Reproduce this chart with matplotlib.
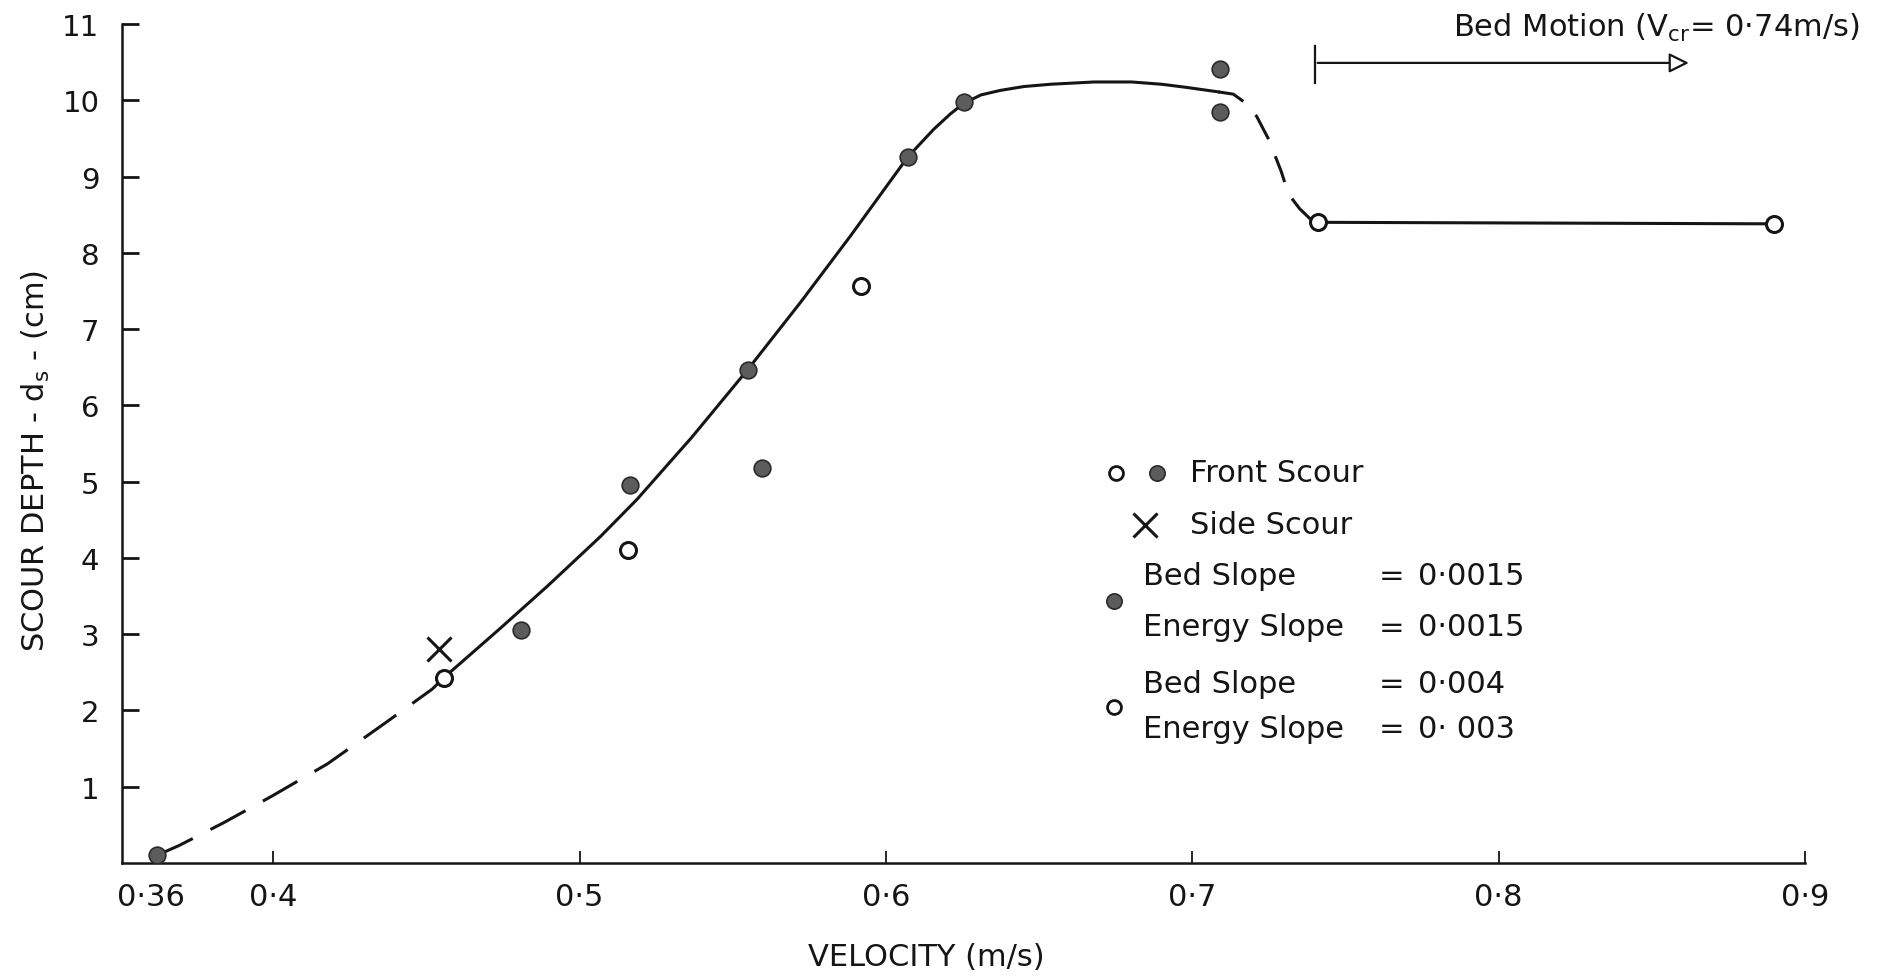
import numpy as np
import matplotlib.pyplot as plt
from matplotlib.patches import FancyArrowPatch

W, H = 1892, 978

# Front scour, bed slope 0.004 / energy slope 0.003 (open circles)
open_v = [0.4557, 0.5158, 0.5917, 0.741, 0.890]
open_ds = [2.43, 4.11, 7.56, 8.40, 8.38]

# Front scour, bed slope 0.0015 / energy slope 0.0015 (filled circles)
filled_v = [0.362, 0.481, 0.5166, 0.5549, 0.5594, 0.6072, 0.6254, 0.709, 0.709]
filled_ds = [0.10, 3.06, 4.95, 6.47, 5.18, 9.26, 9.98, 10.41, 9.84]

# Side scour
side_v = [0.4541]
side_ds = [2.80]

# hand-drawn fit, in pieces (dashed / solid / dashed / solid)
low_v = [0.362, 0.3693, 0.3839, 0.3997, 0.4177, 0.4367, 0.4519, 0.4557]
low_ds = [0.10, 0.23, 0.53, 0.88, 1.30, 1.84, 2.28, 2.43]
rise_v = [0.4557, 0.4742, 0.4895, 0.5068, 0.5188, 0.5366, 0.5549, 0.5721,
          0.5884, 0.6072, 0.6156, 0.6210, 0.6254, 0.6310, 0.6374, 0.6450,
          0.6537, 0.6680, 0.6802, 0.6900, 0.6979, 0.7085]
rise_ds = [2.43, 3.08, 3.63, 4.28, 4.77, 5.58, 6.47, 7.35,
           8.22, 9.26, 9.62, 9.82, 9.96, 10.07, 10.13, 10.18,
           10.21, 10.24, 10.24, 10.21, 10.17, 10.11]
drop_v = [0.7085, 0.7134, 0.7172, 0.7210, 0.7249, 0.7290, 0.7314, 0.7350, 0.7386, 0.741]
drop_ds = [10.11, 10.08, 9.97, 9.79, 9.49, 9.07, 8.77, 8.58, 8.44, 8.40]
flat_v = [0.741, 0.890]
flat_ds = [8.40, 8.38]

v_cr = 0.74
xticks = [0.36, 0.4, 0.5, 0.6, 0.7, 0.8, 0.9]
xtick_labels = ['0·36', '0·4', '0·5', '0·6', '0·7', '0·8', '0·9']
yticks = list(range(1, 12))

ink = '#151515'
fill = '#5c5c5c'

plt.rcParams['font.family'] = ['DejaVu Sans']

fig = plt.figure(figsize=(W / 100, H / 100), dpi=100)
ax = fig.add_axes([121.6 / W, 114 / H, (1805 - 121.6) / W, 839 / H])
ax.set_xlim(0.3505, 0.9)
ax.set_ylim(0, 11)

for s in ('top', 'right'):
    ax.spines[s].set_visible(False)
for s in ('left', 'bottom'):
    ax.spines[s].set_linewidth(1.8)
    ax.spines[s].set_color(ink)

ax.set_xticks(xticks)
ax.set_xticklabels(xtick_labels)
ax.set_yticks(yticks)
ax.tick_params(axis='x', direction='in', length=9, width=1.3, pad=14,
               labelsize=22, colors=ink)
ax.tick_params(axis='y', direction='in', length=12, width=2.0, pad=16,
               labelsize=21, colors=ink)
ax.xaxis.get_major_ticks()[0].tick1line.set_visible(False)

# fitted curve
lw = 2.2
ax.plot(low_v, low_ds, color=ink, lw=lw, dashes=(13, 6.5), zorder=2)
ax.plot(rise_v, rise_ds, color=ink, lw=lw, zorder=2)
ax.plot(drop_v, drop_ds, color=ink, lw=lw, dashes=(9, 6), zorder=2)
ax.plot(flat_v, flat_ds, color=ink, lw=lw, zorder=2)

# data points
ax.plot(open_v, open_ds, 'o', ms=11.5, mfc='white', mec=ink, mew=2.2, zorder=3)
ax.plot(filled_v, filled_ds, 'o', ms=12, mfc=fill, mec='#2a2a2a', mew=1.2, zorder=3)
ax.plot(side_v, side_ds, 'x', ms=17, mec=ink, mew=2.2, zorder=3)

# bed motion arrow
ax.plot([v_cr, v_cr], [10.23, 10.71], color=ink, lw=1.6, clip_on=False)
ax.add_patch(FancyArrowPatch((v_cr, 10.49), (0.863, 10.49), arrowstyle='-|>',
                             mutation_scale=30, lw=1.6, ec=ink, fc='white',
                             clip_on=False))
fig.text(1860 / W, 1 - 28 / H, 'Bed Motion (V$_{\\mathregular{cr}}$= 0·74m/s)',
         ha='right', va='center', fontsize=22, color=ink)

# key
def fx(px):
    return px / W

def fy(py):
    return 1 - py / H

def key_marker(px, py, **kw):
    fig.add_artist(plt.Line2D([fx(px)], [fy(py)], transform=fig.transFigure, **kw))

open_kw = dict(marker='o', ms=10, mfc='white', mec=ink, mew=2.0, ls='none')
filled_kw = dict(marker='o', ms=11, mfc=fill, mec='#2a2a2a', mew=1.2, ls='none')

key_fs = 22
key_marker(1116, 474, **open_kw)
key_marker(1157, 474, **filled_kw)
fig.text(fx(1190), fy(474), 'Front Scour', va='center', fontsize=key_fs, color=ink)
key_marker(1145, 526, marker='x', ms=17, mec=ink, mew=2.2, ls='none')
fig.text(fx(1190), fy(526), 'Side Scour', va='center', fontsize=key_fs, color=ink)

key_marker(1114, 602, **filled_kw)
key_marker(1114, 708, **open_kw)
rows = [(577, 'Bed Slope', '0·0015'), (628, 'Energy Slope', '0·0015'),
        (685, 'Bed Slope', '0·004'), (730, 'Energy Slope', '0· 003')]
for py, name, val in rows:
    fig.text(fx(1143), fy(py), name, va='center', fontsize=key_fs, color=ink)
    fig.text(fx(1392), fy(py), '=', va='center', ha='center', fontsize=key_fs, color=ink)
    fig.text(fx(1418), fy(py), val, va='center', fontsize=key_fs, color=ink)

# axis titles
fig.text(926 / W, 1 - 958 / H, 'VELOCITY (m/s)', ha='center', va='center',
         fontsize=22, color=ink)
fig.text(36 / W, 1 - 461 / H, 'SCOUR DEPTH - d$_{\\mathregular{s}}$ - (cm)', ha='center',
         va='center', rotation=90, fontsize=22, color=ink)

fig.savefig('out.png', dpi=100)
